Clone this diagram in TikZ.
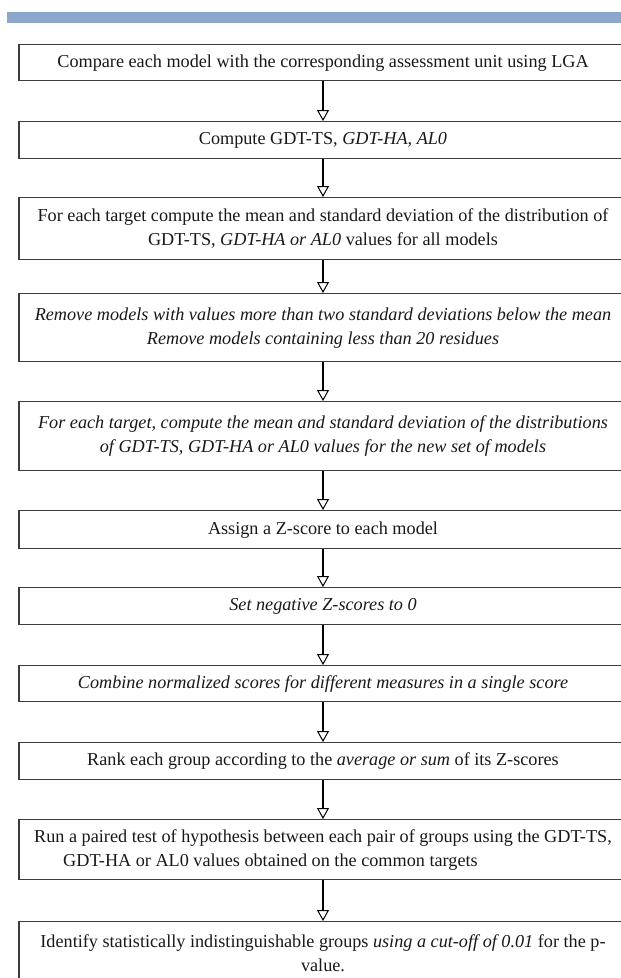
\documentclass[tikz,border=0pt]{standalone}
\usepackage{fontspec}
\setmainfont{Liberation Serif}
\usetikzlibrary{arrows.meta}
\definecolor{barblue}{RGB}{141,166,204}
\definecolor{boxline}{RGB}{60,60,60}
\definecolor{txt}{RGB}{25,25,25}
\begin{document}
\begin{tikzpicture}[x=1pt,y=-1pt,
  stepbox/.style={draw=boxline, line width=1.3pt, fill=white, rectangle, minimum width=608pt, inner sep=0pt, align=center, anchor=north, text=txt, font=\fontsize{18.2}{24}\selectfont},
  flow/.style={line width=2.4pt, black, -{Triangle[open, width=12pt, length=11pt, line width=1pt]}}
]
\useasboundingbox (0,0) rectangle (621,978);
\clip (0,0) rectangle (621,978);
\fill[barblue] (7,12) rectangle (621,22.5);
\node[stepbox, minimum height=36pt] (b1) at (323,44) {Compare each model with the corresponding assessment unit using LGA};
\node[stepbox, minimum height=37pt] (b2) at (323,121) {Compute GDT-TS, \textit{GDT-HA, AL0}};
\node[stepbox, minimum height=62pt] (b3) at (323,197) {For each target compute the mean and standard deviation of the distribution of\\GDT-TS, \textit{GDT-HA or AL0} values for all models};
\node[stepbox, minimum height=68pt] (b4) at (323,293) {\itshape Remove models with values more than two standard deviations below the mean\\\itshape Remove models containing less than 20 residues};
\node[stepbox, minimum height=69pt] (b5) at (323,401) {\itshape For each target, compute the mean and standard deviation of the distributions\\\itshape of GDT-TS, GDT-HA or AL0 values for the new set of models};
\node[stepbox, minimum height=38pt] (b6) at (323,510) {Assign a Z-score to each model};
\node[stepbox, minimum height=37pt] (b7) at (323,587) {\itshape Set negative Z-scores to 0};
\node[stepbox, minimum height=36pt] (b8) at (323,665) {\itshape Combine normalized scores for different measures in a single score};
\node[stepbox, minimum height=37pt] (b9) at (323,742) {Rank each group according to the \textit{average or sum} of its Z-scores};
\node[stepbox, minimum height=60pt, align=left] (b10) at (323,819) {Run a paired test of hypothesis between each pair of groups using the GDT-TS,\\\hspace*{29pt}GDT-HA or AL0 values obtained on the common targets};
\node[stepbox, minimum height=64pt] (b11) at (323,921) {Identify statistically indistinguishable groups \textit{using a cut-off of 0.01} for the p-\\value.};
\foreach \a/\b in {b1/b2,b2/b3,b3/b4,b4/b5,b5/b6,b6/b7,b7/b8,b8/b9,b9/b10,b10/b11}
  \draw[flow] (\a.south) -- (\b.north);
\end{tikzpicture}
\end{document}
